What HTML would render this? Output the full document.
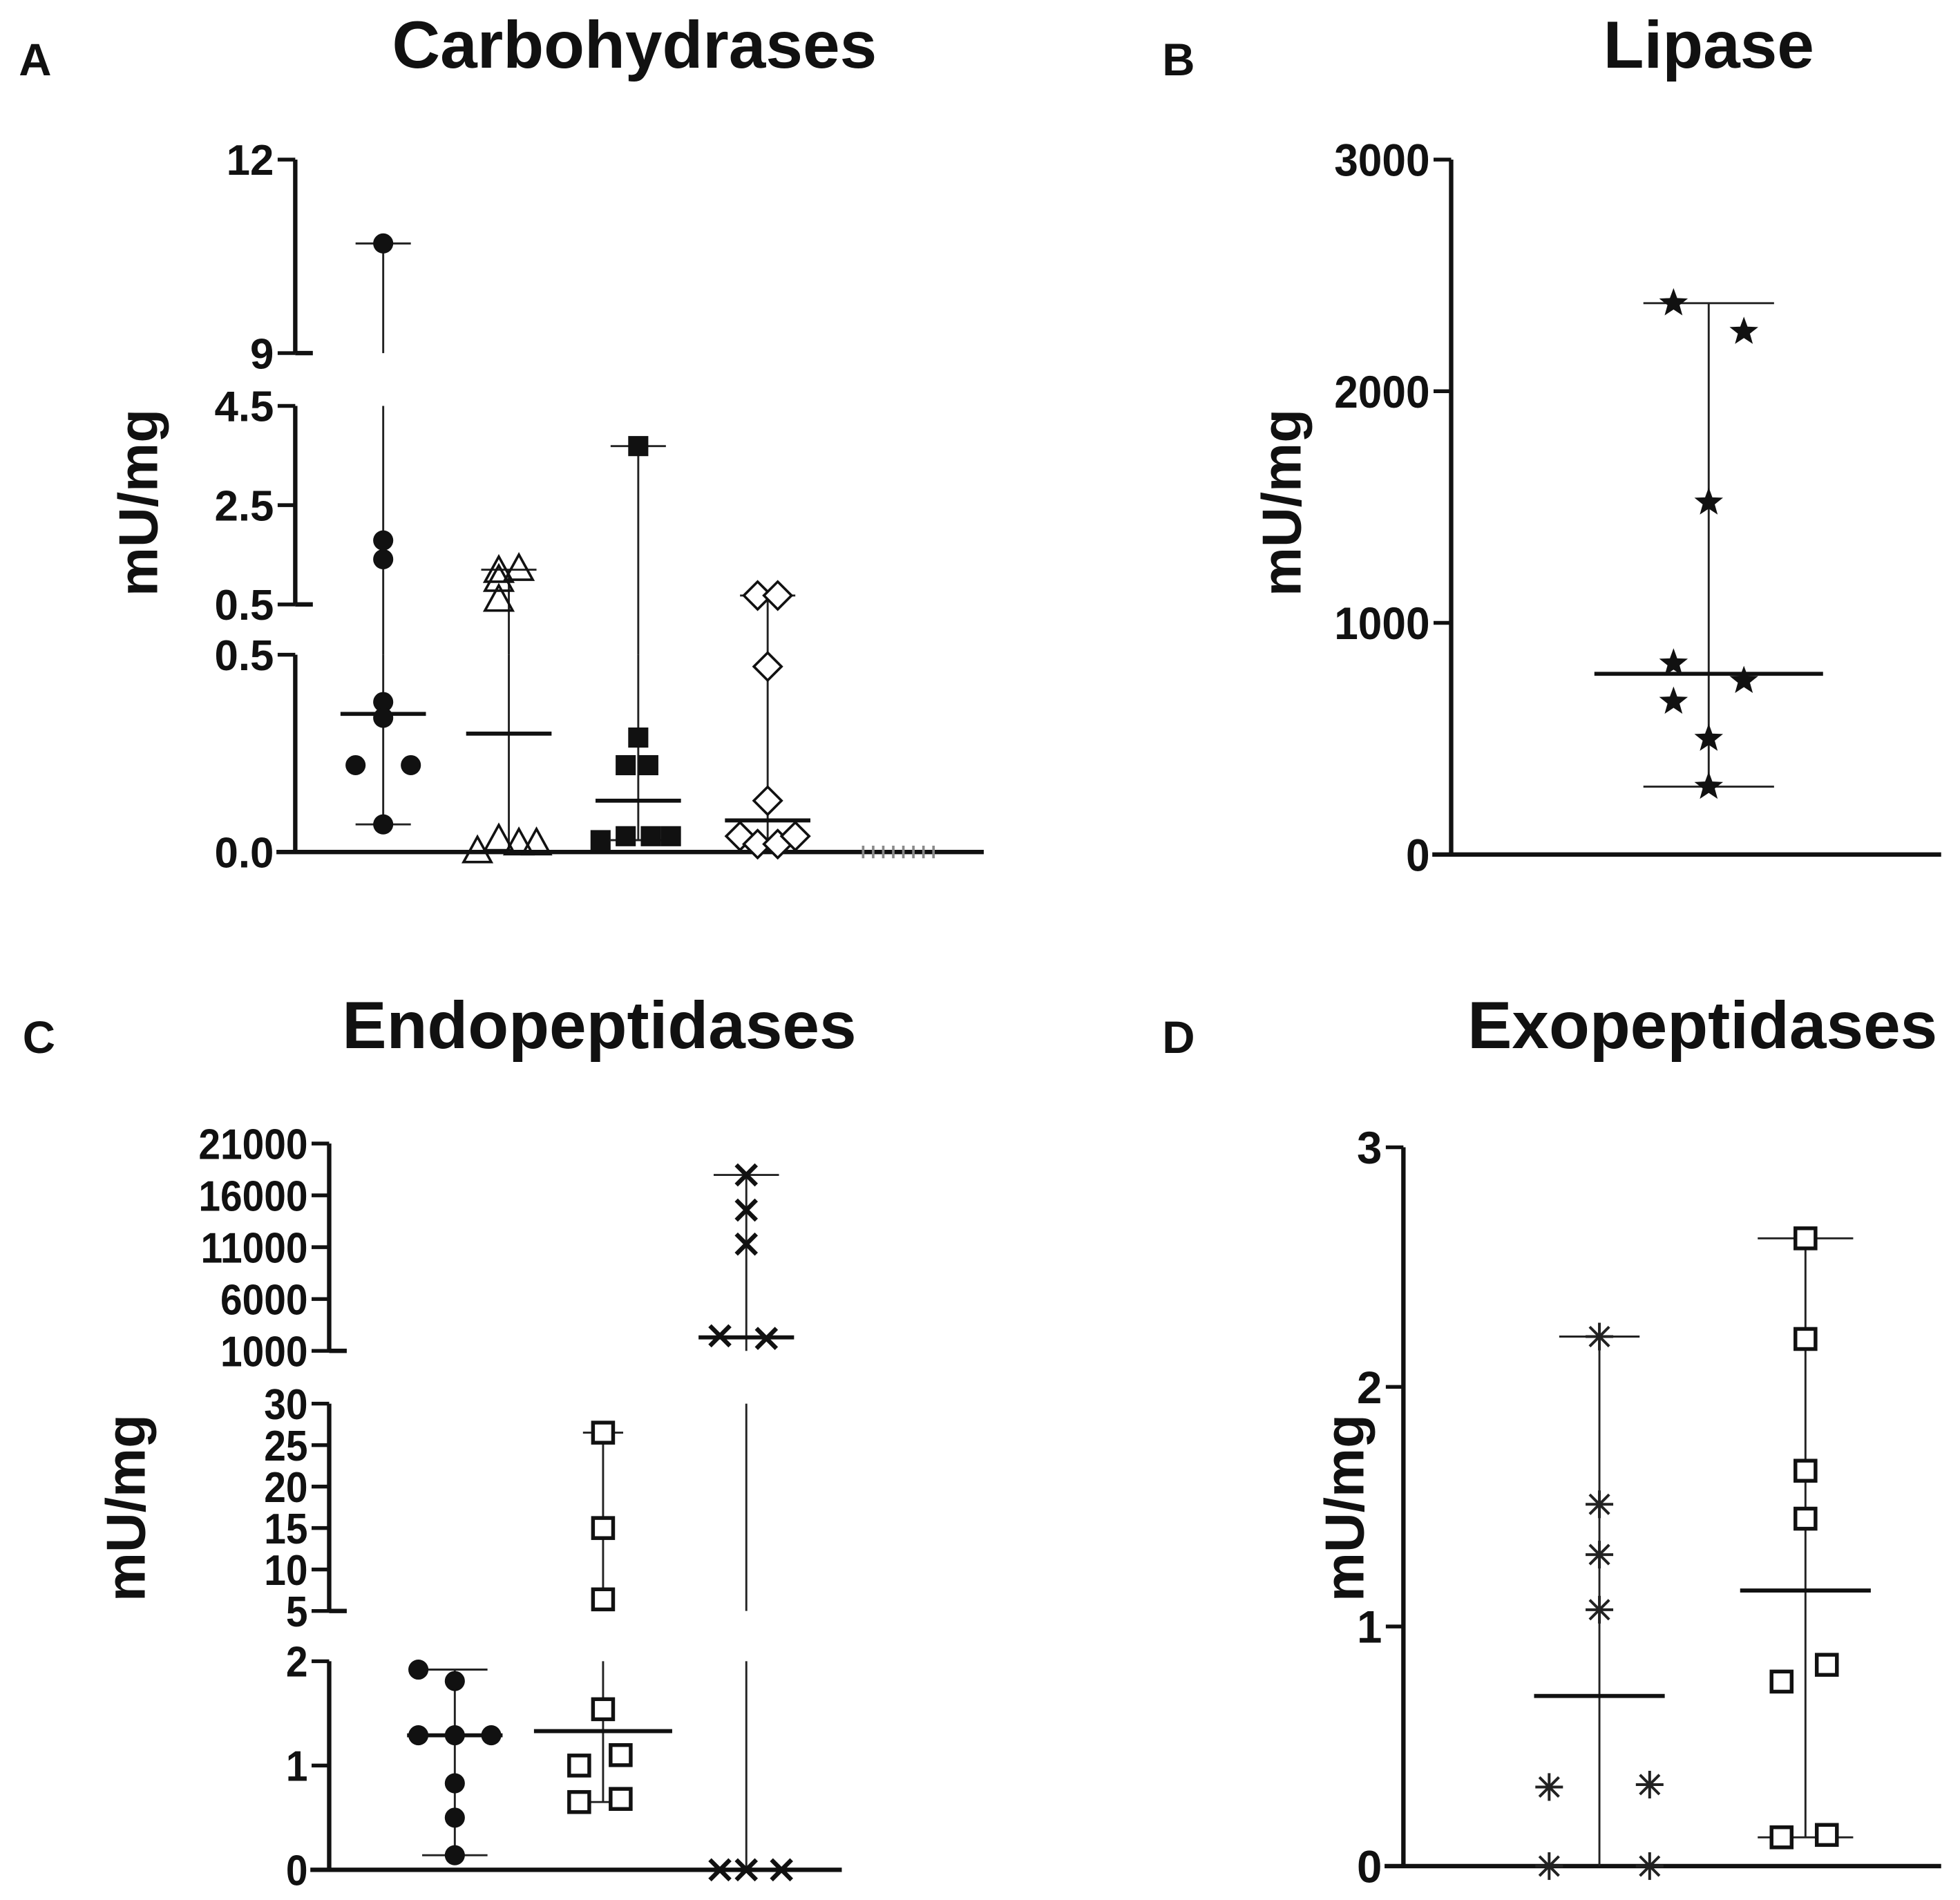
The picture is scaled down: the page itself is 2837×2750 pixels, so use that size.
<!DOCTYPE html>
<html><head><meta charset="utf-8">
<style>
html,body{margin:0;padding:0;background:#fff;}
svg{display:block;}
text{font-family:"Liberation Sans",Arial,sans-serif;font-weight:bold;fill:#111;}
</style></head>
<body>
<svg id="fig" xmlns="http://www.w3.org/2000/svg" width="2837" height="2750" viewBox="0 0 1560 1512" preserveAspectRatio="none"></svg>
<script>
// ---------- Panel A: Carbohydrases ----------
const aGroups = ["g1","g2","g3","g4","g5"];
const aG1 = [10.7,1.79,1.41,0.38,0.34,0.22,0.22,0.07];
const aG2 = [1.16,1.2,0.98,0.58,0.0,0.03,0.02,0.02];
const aG3 = [3.69,0.29,0.22,0.22,0.04,0.04,0.04,0.03];
const aG4 = [0.68,0.68,0.47,0.13,0.04,0.02,0.02,0.04];
const aG5 = [0,0,0,0,0,0,0,0];
const aMeans = [0.35,0.30,0.13,0.08,0];
const aTicks = [12,9,4.5,2.5,0.5,0.5,0.0];
const aTickLabels = ["12","9","4.5","2.5","0.5","0.5","0.0"];
// ---------- Panel B: Lipase ----------
const bVals = [2380,2257,1520,825,750,660,500,293];
const bMean = [780];
const bTicks = [0,1000,2000,3000];
// ---------- Panel C: Endopeptidases ----------
const cG1 = [1.92,1.81,1.29,1.29,1.29,0.83,0.5,0.14];
const cG2 = [26.5,15,6.4,1.54,1.0,1.1,0.65,0.68];
const cG3 = [17970,14580,11300,2450,2200,0,0,0];
const cMeans = [1.29,1.33,2300];
const cTicks = [21000,16000,11000,6000,1000,30,25,20,15,10,5,2,1,0];
const cTickLabels = ["21000","16000","11000","6000","1000","30","25","20","15","10","5","2","1","0"];
// ---------- Panel D: Exopeptidases ----------
const dG1 = [2.21,1.51,1.30,1.07,0.33,0.34,0,0];
const dG2 = [2.62,2.2,1.65,1.45,0.77,0.84,0.12,0.13];
const dMeans = [0.71,1.15];
const dTicks = [0,1,2,3];

const NS="http://www.w3.org/2000/svg";
const svg=document.getElementById('fig');
function mk(tag,attrs,parent){const e=document.createElementNS(NS,tag);for(const k in attrs)e.setAttribute(k,attrs[k]);(parent||svg).appendChild(e);return e;}
function line(x1,y1,x2,y2,w,p,col){return mk('line',{x1,y1,x2,y2,stroke:col||'#111','stroke-width':w},p);}
function txt(s,x,y,size,anchor,p,extra){const t=mk('text',Object.assign({x,y,'font-size':size,'text-anchor':anchor||'start'},extra||{}),p);t.textContent=s;return t;}

function makeScale(segs){
  return function(v){
    let s=segs.find(s=>v>=s.lo&&v<=s.hi&&!(s.excl&&v<=s.lo));
    if(!s){s=segs.filter(q=>q.lo<v).sort((a,b)=>b.lo-a.lo)[0]||segs[0];}
    const c=Math.max(s.lo,Math.min(s.hi,v));
    return s.ylo+(c-s.lo)/(s.hi-s.lo)*(s.yhi-s.ylo);
  };
}
function drawAxis(p,ax,segs,ticks,labels,xEnd,fs,sx){
  segs.forEach((s,i)=>{
    const a=line(ax,s.ylo,ax,s.yhi,3.5,p);
    
    
    if(i>0) line(ax,s.ylo,ax+14,s.ylo,3.5,p);
  });
  const base=segs[0].ylo;
  const xa=line(ax-15,base,xEnd,base,3.5,p);
  
  
  ticks.forEach((t,i)=>{
    const y=ticks._ys[i];
    line(ax-14,y,ax,y,3,p);
    const lx=ax-17;
    const lb=txt(labels[i],lx,y+fs*0.36,fs,'end',p,sx?{transform:`translate(${lx} 0) scale(${sx} 1) translate(${-lx} 0)`}:{});
    
    
  });
}
function whisker(p,x,lo,hi,segs,sc,capHi,capLo,capW){
  segs.forEach(s=>{
    const a=Math.max(lo,s.lo),b=Math.min(hi,s.hi);
    if(b>a) line(x,sc(a),x,sc(b),1.6,p,'#222');
  });
  if(capHi) line(x-capW,sc(hi),x+capW,sc(hi),1.6,p,'#222');
  if(capLo) line(x-capW,sc(lo),x+capW,sc(lo),1.6,p,'#222');
}
function marker(p,type,x,y){
  let e;
  if(type==='circle') e=mk('circle',{cx:x,cy:y,r:8,fill:'#111'},p);
  else if(type==='tri') e=mk('polygon',{points:`${x},${y-12} ${x-11},${y+8} ${x+11},${y+8}`,fill:'none',stroke:'#111','stroke-width':2},p);
  else if(type==='fsq') e=mk('rect',{x:x-8,y:y-8,width:16,height:16,fill:'#111'},p);
  else if(type==='dia') e=mk('polygon',{points:`${x},${y-11} ${x+11},${y} ${x},${y+11} ${x-11},${y}`,fill:'#fff',stroke:'#111','stroke-width':2},p);
  else if(type==='osq') e=mk('rect',{x:x-8,y:y-8,width:16,height:16,fill:'#fff',stroke:'#111','stroke-width':3},p);
  else if(type==='star'){
    let pts=[];for(let k=0;k<10;k++){const r=k%2?5:12;const an=-Math.PI/2+k*Math.PI/5;pts.push((x+r*Math.cos(an)).toFixed(1)+','+(y+r*Math.sin(an)).toFixed(1));}
    e=mk('polygon',{points:pts.join(' '),fill:'#111'},p);
  }
  else if(type==='xx'){e=mk('g',{},p);line(x-8,y-8,x+8,y+8,3.5,e);line(x-8,y+8,x+8,y-8,3.5,e);}
  else if(type==='ast'){e=mk('g',{},p);for(let k=0;k<4;k++){const an=k*Math.PI/4;line(x-11*Math.cos(an),y-11*Math.sin(an),x+11*Math.cos(an),y+11*Math.sin(an),2.2,e,'#222');}}
  else if(type==='hatch'){e=line(x,y-5,x,y+5,2,p,'#888');}
  
  
}
function meanLine(p,x,y,hw){const m=line(x-hw,y,x+hw,y,3.2,p);}
function panel(name,letter,lx,ly,title,tx,ty,ylx,yly){
  const g=mk('g',{});
  
  
  const l=txt(letter,lx,ly,36,'start',g);
  const t=txt(title,tx,ty,53,'middle',g);
  const y=txt('mU/mg',ylx,yly,44,'middle',g,{transform:`rotate(-90 ${ylx} ${yly})`,'dominant-baseline':'central'});
  
  return g;
}

// ===== Panel A =====
(function(){
  const g=panel('panel-a-carbohydrases','A',15,60,'Carbohydrases',505,54,110,400);
  const segs=[{lo:0,hi:0.5,ylo:678,yhi:521},{lo:0.5,hi:4.5,ylo:481,yhi:323,excl:true},{lo:9,hi:12,ylo:281,yhi:127}];
  const sc=makeScale(segs);
  const ax=235;
  aTicks._ys=[sc(12),sc(9),sc(4.5),sc(2.5),481,521,sc(0)];
  drawAxis(g,ax,segs,aTicks,aTickLabels,783,34);
  const xs=[305,405,508,611,715];
  const data=[aG1,aG2,aG3,aG4,aG5];
  const types=['circle','tri','fsq','dia','hatch'];
  const offs=[[0,0,0,0,0,-22,22,0],[-8,8,-8,-8,-25,-8,8,22],[0,0,-10,8,-10,10,26,-30],[-8,8,0,0,-22,-8,8,22],[-28,-20,-12,-4,4,12,20,28]];
  data.forEach((d,i)=>{
    const mx=Math.max(...d),mn=Math.min(...d);
    if(i<4){
      const wx=xs[i];
      whisker(g,wx,mn,mx,segs,sc,true,mn>0.01,22);
      meanLine(g,wx,sc(aMeans[i]),34);
    }
    d.forEach((v,k)=>marker(g,types[i],xs[i]+offs[i][k],sc(v)));
  });
})();

// ===== Panel B =====
(function(){
  const g=panel('panel-b-lipase','B',925,60,'Lipase',1360,54,1020,400);
  const segs=[{lo:0,hi:3000,ylo:680,yhi:127}];
  const sc=makeScale(segs);
  bTicks._ys=bTicks.map(sc);
  drawAxis(g,1155,segs,bTicks,bTicks.map(String),1545,36,0.95);
  const x=1360;
  whisker(g,x,Math.min(...bVals),Math.max(...bVals),segs,sc,true,true,52);
  meanLine(g,x,sc(bMean[0]),91);
  const offs=[-28,28,0,-28,28,-28,0,0];
  bVals.forEach((v,k)=>marker(g,'star',x+offs[k],sc(v)));
})();

// ===== Panel C =====
(function(){
  const g=panel('panel-c-endopeptidases','C',18,838,'Endopeptidases',477,834,100,1200);
  const segs=[{lo:0,hi:2,ylo:1488,yhi:1322},{lo:5,hi:30,ylo:1282,yhi:1117},{lo:1000,hi:21000,ylo:1075,yhi:910}];
  const sc=makeScale(segs);
  cTicks._ys=cTicks.map(sc);
  drawAxis(g,262,segs,cTicks,cTickLabels,670,34,0.92);
  const xs=[362,480,594];
  const data=[cG1,cG2,cG3];
  const types=['circle','osq','xx'];
  const offs=[[-29,0,-29,0,29,0,0,0],[0,0,0,0,-19,14,-19,14],[0,0,0,-21,16,-21,0,28]];
  const capLo=[true,true,false];
  data.forEach((d,i)=>{
    const mx=Math.max(...d),mn=Math.min(...d);
    whisker(g,xs[i],mn,mx,segs,sc,true,capLo[i],i==1?16:26);
    meanLine(g,xs[i],sc(cMeans[i]),i==1?55:38);
    d.forEach((v,k)=>marker(g,types[i],xs[i]+offs[i][k],sc(v)));
  });
})();

// ===== Panel D =====
(function(){
  const g=panel('panel-d-exopeptidases','D',925,838,'Exopeptidases',1355,834,1070,1200);
  const segs=[{lo:0,hi:3,ylo:1485,yhi:913}];
  const sc=makeScale(segs);
  dTicks._ys=dTicks.map(sc);
  drawAxis(g,1117,segs,dTicks,dTicks.map(String),1545,36);
  const xs=[1273,1437];
  const data=[dG1,dG2];
  const types=['ast','osq'];
  const offs=[[0,0,0,0,-40,40,-40,40],[0,0,0,0,-19,17,-19,17]];
  data.forEach((d,i)=>{
    const mx=Math.max(...d),mn=Math.min(...d);
    whisker(g,xs[i],mn,mx,segs,sc,true,i==1,i==0?32:38);
    meanLine(g,xs[i],sc(dMeans[i]),52);
    d.forEach((v,k)=>marker(g,types[i],xs[i]+offs[i][k],sc(v)));
  });
})();
</script>
</body></html>
